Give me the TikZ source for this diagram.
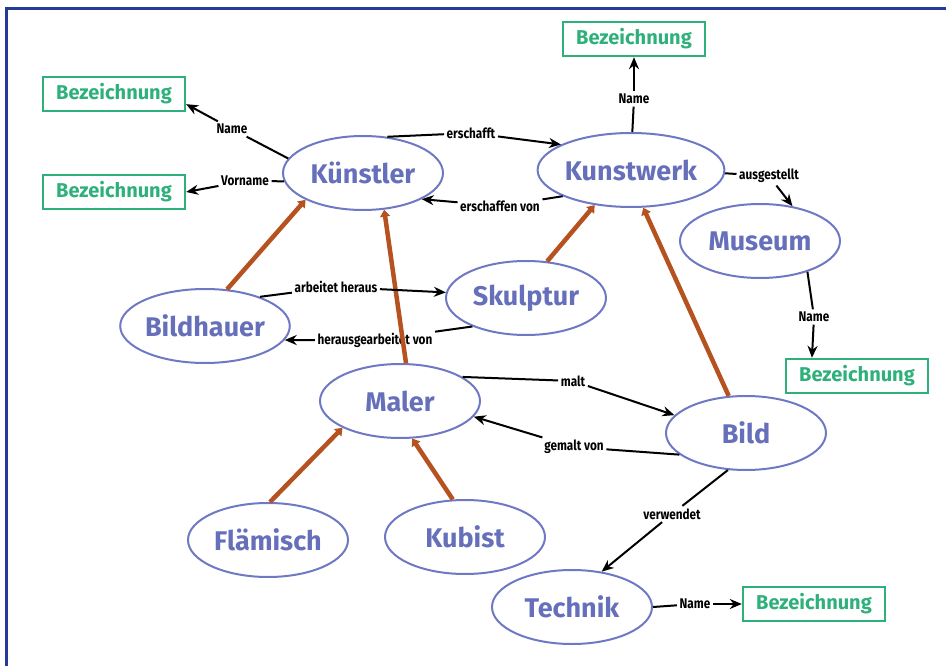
\documentclass[tikz,border=0pt]{standalone}
\usepackage{fontspec}
\setmainfont{Fira Sans}
\newfontfamily\condfont[FakeStretch=0.84]{Fira Sans}
\usetikzlibrary{shapes.geometric,arrows.meta}
\definecolor{ovalblue}{HTML}{6E78C3}
\definecolor{textblue}{HTML}{6670BA}
\definecolor{attrgreen}{HTML}{2EB07A}
\definecolor{isabrown}{HTML}{B5521F}
\definecolor{frameblue}{HTML}{233C96}
\tikzset{
  concept/.style={ellipse, draw=ovalblue, line width=2pt, minimum width=160pt,
    minimum height=74pt, inner sep=0pt, text=textblue,
    font=\fontsize{27}{28}\selectfont\bfseries},
  attr/.style={draw=attrgreen, line width=2.4pt, minimum width=142pt, minimum height=34pt,
    inner sep=0pt, text=attrgreen, font=\fontsize{20}{22}\selectfont\bfseries},
  lbl/.style={inner sep=2.5pt, font=\condfont\fontsize{14}{15}\selectfont\bfseries},
  rel/.style={draw=black, line width=2pt},
  relarrow/.style={rel, -{Stealth[length=12pt,width=10pt]}},
  isa/.style={draw=isabrown, line width=4.5pt, -{Triangle[length=7pt,width=10pt]}},
  frame/.style={draw=frameblue, line width=3pt}
}
\begin{document}
\begin{tikzpicture}[x=1pt,y=-1pt]
  \useasboundingbox (0,0) rectangle (946,666);
  \draw[frame] (946,9) -- (6,9) -- (6,666);
  % concepts
  \node[concept] (kuenstler) at (363,173) {Künstler};
  \node[concept] (kunstwerk) at (631,170) {Kunstwerk};
  \node[concept] (museum) at (760,241) {Museum};
  \node[concept] (skulptur) at (526,298) {Skulptur};
  \node[concept] (bildhauer) at (205,326) {Bildhauer};
  \node[concept] (maler) at (400,401) {Maler};
  \node[concept] (bild) at (746,433) {Bild};
  \node[concept] (flaemisch) at (268,540) {Flämisch};
  \node[concept] (kubist) at (465,537) {Kubist};
  \node[concept] (technik) at (572,607) {Technik};
  % attributes
  \node[attr] (bezA) at (114,94) {Bezeichnung};
  \node[attr] (bezB) at (114,192) {Bezeichnung};
  \node[attr] (bezC) at (634,39) {Bezeichnung};
  \node[attr] (bezD) at (857,376) {Bezeichnung};
  \node[attr] (bezE) at (814,604) {Bezeichnung};
  % relation labels
  \node[lbl] (lName1) at (232,129) {Name};
  \node[lbl] (lVorname) at (245,181) {Vorname};
  \node[lbl] (lErschafft) at (471,133) {erschafft};
  \node[lbl] (lErschaffenVon) at (500,206) {erschaffen von};
  \node[lbl] (lName2) at (634,99) {Name};
  \node[lbl] (lAusgestellt) at (769,176) {ausgestellt};
  \node[lbl] (lName3) at (814,317) {Name};
  \node[lbl] (lArbeitet) at (336,287) {arbeitet heraus};
  \node[lbl] (lHeraus) at (375,340) {herausgearbeitet von};
  \node[lbl] (lMalt) at (573,381) {malt};
  \node[lbl] (lGemalt) at (574,447) {gemalt von};
  \node[lbl] (lVerwendet) at (672,514) {verwendet};
  \node[lbl] (lName4) at (695,604) {Name};
  % generalisation
  \draw[isa] (bildhauer.59) -- (kuenstler.205);
  \draw[isa] (maler.81) -- (kuenstler.-60);
  \draw[isa] (skulptur.60) -- (kunstwerk.224);
  \draw[isa] (bild.115) -- (kunstwerk.-72);
  \draw[isa] (flaemisch.87) -- (maler.205);
  \draw[isa] (kubist.108) -- (maler.-72);
  % relations
  \draw[rel] (kuenstler.169) -- (lName1);
  \draw[relarrow] (lName1) -- (bezA.-8);
  \draw[rel] (kuenstler.186) -- (lVorname);
  \draw[relarrow] (lVorname) -- (bezB.east);
  \draw[rel] (kuenstler.56) -- (lErschafft);
  \draw[relarrow] (lErschafft) -- (kunstwerk.160);
  \draw[rel] (kunstwerk.201) -- (lErschaffenVon);
  \draw[relarrow] (lErschaffenVon) -- (kuenstler.-24);
  \draw[rel] (kunstwerk.88) -- (lName2);
  \draw[relarrow] (lName2) -- (bezC.south);
  \draw[rel] (kunstwerk.-2) -- (lAusgestellt);
  \draw[relarrow] (lAusgestellt) -- (museum.47);
  \draw[rel] (museum.-33) -- (lName3);
  \draw[relarrow] (lName3) -- (bezD.158);
  \draw[rel] (bildhauer.28) -- (lArbeitet);
  \draw[relarrow] (lArbeitet) -- (skulptur.176);
  \draw[rel] (skulptur.208) -- (lHeraus);
  \draw[relarrow] (lHeraus) -- (bildhauer.-10);
  \draw[rel] (maler.21) -- (lMalt);
  \draw[relarrow] (lMalt) -- (bild.166);
  \draw[rel] (bild.198) -- (lGemalt);
  \draw[relarrow] (lGemalt) -- (maler.-12);
  \draw[rel] (bild.244) -- (lVerwendet);
  \draw[relarrow] (lVerwendet) -- (technik.50);
  \draw[rel] (technik.0) -- (lName4);
  \draw[relarrow] (lName4) -- (bezE.west);
\end{tikzpicture}
\end{document}
